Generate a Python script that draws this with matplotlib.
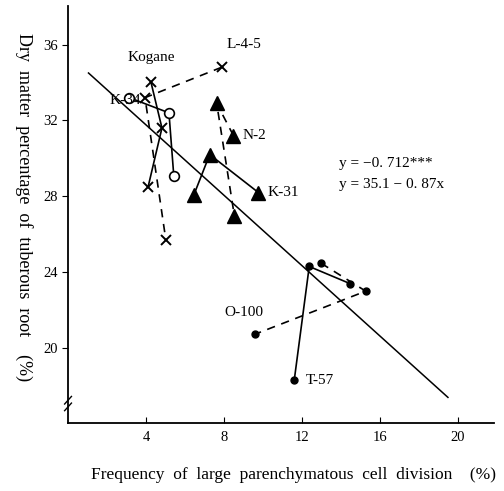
import matplotlib
matplotlib.use("Agg")
import matplotlib.pyplot as plt

# cell division frequency (%) vs dry matter (%) for each line, 3 samplings
kogane_x = [4.26, 4.82, 4.11]
kogane_y = [34.0, 31.6, 28.5]

l45_x = [7.88, 3.95, 5.02]
l45_y = [34.8, 33.2, 25.7]

k34_x = [3.14, 5.18, 5.43]
k34_y = [33.2, 32.4, 29.05]

n2_x = [8.49, 7.63, 8.54]
n2_y = [31.2, 32.9, 26.95]

k31_x = [6.45, 7.27, 9.77]
k31_y = [28.05, 30.2, 28.2]

t57_x = [11.61, 12.38, 14.47]
t57_y = [18.3, 24.3, 23.4]

o100_x = [12.99, 15.28, 9.62]
o100_y = [24.47, 23.0, 20.74]

# regression line as drawn
reg_x = [1.05, 19.5]
reg_y = [34.5, 17.4]

xticks = [4, 8, 12, 16, 20]
yticks = [20, 24, 28, 32, 36]

plt.rcParams['font.family'] = ['Liberation Serif', 'DejaVu Serif']

fig = plt.figure(figsize=(5.04, 4.91), dpi=100)
ax = fig.add_axes([0.135, 0.1385, 0.845, 0.85])

ax.plot(reg_x, reg_y, color='black', lw=1.1)

ax.plot(kogane_x, kogane_y, color='black', lw=1.2, marker='x', ms=7, mew=1.4)
ax.plot(l45_x, l45_y, color='black', lw=1.2, ls=(0, (5, 4)), marker='x', ms=7, mew=1.4)
ax.plot(k34_x, k34_y, color='black', lw=1.2, marker='o', ms=7, mfc='white', mew=1.2)
ax.plot(n2_x, n2_y, color='black', lw=1.2, ls=(0, (5, 4)), marker='^', ms=10)
ax.plot(k31_x, k31_y, color='black', lw=1.2, marker='^', ms=10)
ax.plot(t57_x, t57_y, color='black', lw=1.2, marker='o', ms=5)
ax.plot(o100_x, o100_y, color='black', lw=1.2, ls=(0, (5, 4)), marker='o', ms=5)

lab = dict(fontsize=11, ha='left', va='center')
ax.text(3.04, 35.3, 'Kogane', **lab)
ax.text(2.12, 33.05, 'K-34', **lab)
ax.text(8.14, 36.0, 'L-4-5', **lab)
ax.text(8.95, 31.2, 'N-2', **lab)
ax.text(10.23, 28.2, 'K-31', **lab)
ax.text(8.04, 21.9, 'O-100', **lab)
ax.text(12.2, 18.3, 'T-57', **lab)
ax.text(13.9, 29.75, 'y = \u22120. 712***', **lab)
ax.text(13.9, 28.6, 'y = 35.1 \u2212 0. 87x', **lab)

ax.set_xlim(0, 21.86)
ax.set_ylim(16.05, 38.05)
ax.set_xticks(xticks)
ax.set_yticks(yticks)
ax.tick_params(axis='x', direction='in', length=4, labelsize=10.5, pad=6)
ax.tick_params(axis='y', direction='out', length=4, labelsize=10.5)
for s in ['top', 'right']:
    ax.spines[s].set_visible(False)
ax.spines['left'].set_linewidth(1.3)
ax.spines['bottom'].set_linewidth(1.3)

# axis break on the y axis
tr = ax.get_yaxis_transform()
ax.plot([-0.008, 0.008], [17.05, 17.45], transform=tr, color='black', lw=1, clip_on=False)
ax.plot([-0.008, 0.008], [16.7, 17.1], transform=tr, color='black', lw=1, clip_on=False)

ax.set_xlabel('Frequency  of  large  parenchymatous  cell  division    (%)', fontsize=12.5)
ax.xaxis.set_label_coords(0.53, -0.105)
ax.set_ylabel('Dry  matter  percentage  of  tuberous  root    (%)', fontsize=13, rotation=-90, va='bottom')
ax.yaxis.set_label_coords(-0.125, 0.517)

fig.savefig('out.png', dpi=100)
